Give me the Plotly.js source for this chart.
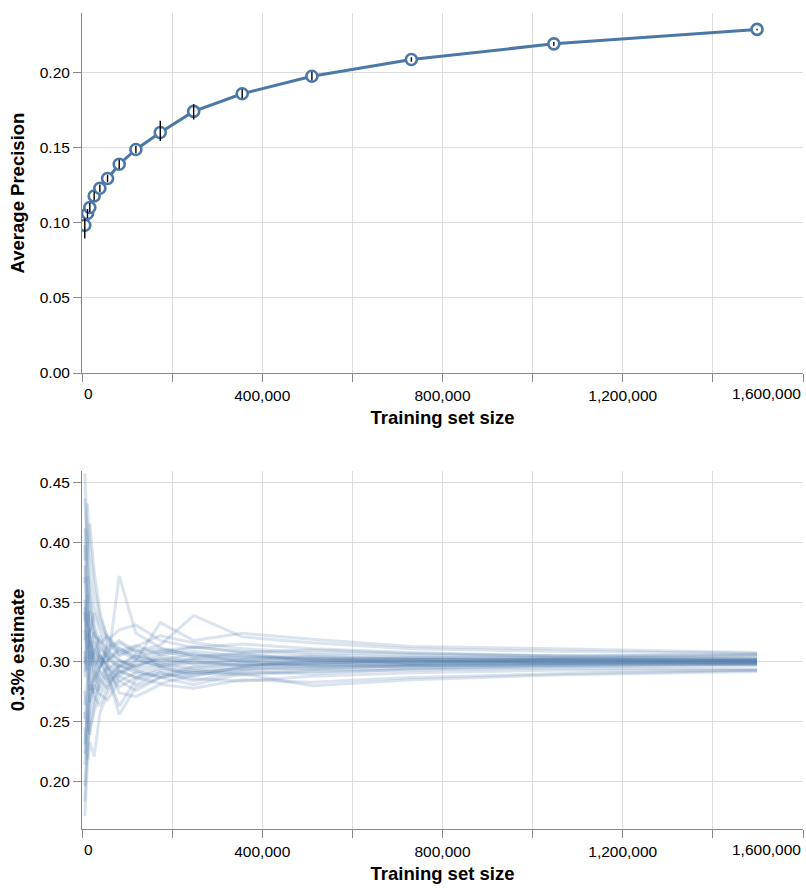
<!DOCTYPE html>
<html>
<head>
<meta charset="utf-8">
<script src="https://cdn.plot.ly/plotly-3.0.1.min.js"></script>
<style>html,body{margin:0;padding:0;background:#fff;}#chart{width:806px;height:888px;}</style>
</head>
<body>
<div id="chart"></div>
<script>
// ---- Data ----
const trainingSize = [6200, 12200, 17300, 27000, 39600, 56700, 82600, 119600, 173700, 247800, 355500, 510200, 730900, 1047100, 1498000];
const avgPrecision = [0.0982, 0.1060, 0.1100, 0.1177, 0.1228, 0.1293, 0.1388, 0.1486, 0.1599, 0.1739, 0.1856, 0.1973, 0.2084, 0.2188, 0.2284];
const apErrPlus    = [0.0045, 0.0030, 0.0030, 0.0030, 0.0025, 0.0025, 0.0030, 0.0025, 0.0077, 0.0048, 0.0030, 0.0028, 0.0015, 0.0012, 0.0005];
const apErrMinus   = [0.0088, 0.0030, 0.0030, 0.0030, 0.0025, 0.0025, 0.0030, 0.0025, 0.0056, 0.0054, 0.0030, 0.0028, 0.0015, 0.0012, 0.0005];

const run01 = [0.412, 0.365, 0.338, 0.322, 0.318, 0.309, 0.316, 0.308, 0.311, 0.306, 0.303, 0.305, 0.302, 0.303, 0.302];
const run02 = [0.231, 0.262, 0.281, 0.274, 0.289, 0.296, 0.284, 0.291, 0.297, 0.293, 0.296, 0.298, 0.297, 0.299, 0.300];
const run03 = [0.352, 0.318, 0.297, 0.311, 0.302, 0.287, 0.298, 0.305, 0.299, 0.303, 0.301, 0.297, 0.300, 0.302, 0.301];
const run04 = [0.458, 0.402, 0.371, 0.346, 0.331, 0.318, 0.309, 0.314, 0.306, 0.309, 0.305, 0.302, 0.304, 0.303, 0.305];
const run05 = [0.183, 0.236, 0.255, 0.268, 0.281, 0.292, 0.279, 0.287, 0.293, 0.291, 0.295, 0.294, 0.297, 0.298, 0.298];
const run06 = [0.298, 0.341, 0.322, 0.303, 0.296, 0.308, 0.302, 0.296, 0.303, 0.299, 0.302, 0.304, 0.301, 0.300, 0.301];
const run07 = [0.385, 0.433, 0.398, 0.362, 0.337, 0.321, 0.311, 0.305, 0.301, 0.307, 0.300, 0.303, 0.299, 0.301, 0.300];
const run08 = [0.264, 0.287, 0.309, 0.292, 0.276, 0.289, 0.263, 0.285, 0.291, 0.284, 0.292, 0.290, 0.294, 0.296, 0.297];
const run09 = [0.327, 0.299, 0.276, 0.288, 0.306, 0.297, 0.372, 0.324, 0.312, 0.305, 0.307, 0.301, 0.303, 0.302, 0.303];
const run10 = [0.214, 0.251, 0.272, 0.296, 0.285, 0.278, 0.295, 0.302, 0.296, 0.300, 0.297, 0.299, 0.301, 0.299, 0.300];
const run11 = [0.371, 0.329, 0.343, 0.319, 0.307, 0.295, 0.288, 0.299, 0.307, 0.312, 0.309, 0.306, 0.304, 0.303, 0.302];
const run12 = [0.245, 0.218, 0.262, 0.281, 0.273, 0.268, 0.284, 0.276, 0.287, 0.293, 0.290, 0.293, 0.295, 0.297, 0.298];
const run13 = [0.334, 0.372, 0.356, 0.331, 0.315, 0.322, 0.306, 0.313, 0.322, 0.316, 0.311, 0.308, 0.306, 0.305, 0.306];
const run14 = [0.287, 0.309, 0.318, 0.301, 0.292, 0.284, 0.297, 0.291, 0.288, 0.296, 0.299, 0.296, 0.298, 0.299, 0.299];
const run15 = [0.398, 0.347, 0.311, 0.297, 0.312, 0.305, 0.293, 0.287, 0.295, 0.291, 0.294, 0.297, 0.296, 0.298, 0.299];
const run16 = [0.196, 0.228, 0.244, 0.259, 0.272, 0.283, 0.291, 0.297, 0.302, 0.298, 0.301, 0.300, 0.302, 0.301, 0.301];
const run17 = [0.342, 0.311, 0.329, 0.307, 0.299, 0.312, 0.318, 0.309, 0.314, 0.339, 0.321, 0.316, 0.311, 0.309, 0.307];
const run18 = [0.276, 0.253, 0.239, 0.263, 0.284, 0.296, 0.274, 0.271, 0.281, 0.278, 0.285, 0.283, 0.287, 0.290, 0.293];
const run19 = [0.318, 0.356, 0.302, 0.283, 0.297, 0.301, 0.309, 0.302, 0.297, 0.302, 0.304, 0.301, 0.300, 0.302, 0.301];
const run20 = [0.437, 0.388, 0.352, 0.328, 0.306, 0.294, 0.301, 0.294, 0.299, 0.295, 0.298, 0.299, 0.301, 0.300, 0.299];
const run21 = [0.252, 0.276, 0.296, 0.317, 0.301, 0.289, 0.256, 0.279, 0.287, 0.291, 0.289, 0.292, 0.293, 0.295, 0.294];
const run22 = [0.309, 0.282, 0.266, 0.279, 0.293, 0.316, 0.305, 0.311, 0.296, 0.288, 0.296, 0.302, 0.299, 0.301, 0.302];
const run23 = [0.366, 0.397, 0.416, 0.376, 0.342, 0.318, 0.327, 0.331, 0.318, 0.312, 0.315, 0.311, 0.308, 0.305, 0.306];
const run24 = [0.223, 0.267, 0.289, 0.306, 0.322, 0.302, 0.296, 0.306, 0.309, 0.304, 0.306, 0.303, 0.302, 0.302, 0.301];
const run25 = [0.292, 0.324, 0.287, 0.271, 0.263, 0.279, 0.292, 0.287, 0.282, 0.289, 0.293, 0.295, 0.297, 0.297, 0.298];
const run26 = [0.346, 0.303, 0.325, 0.341, 0.326, 0.311, 0.301, 0.296, 0.305, 0.301, 0.297, 0.300, 0.298, 0.300, 0.300];
const run27 = [0.171, 0.215, 0.233, 0.221, 0.257, 0.274, 0.288, 0.281, 0.291, 0.286, 0.284, 0.288, 0.291, 0.293, 0.293];
const run28 = [0.304, 0.293, 0.307, 0.325, 0.314, 0.301, 0.312, 0.303, 0.309, 0.313, 0.308, 0.310, 0.307, 0.305, 0.303];
const run29 = [0.381, 0.346, 0.319, 0.296, 0.304, 0.298, 0.291, 0.301, 0.333, 0.318, 0.324, 0.319, 0.313, 0.311, 0.308];
const run30 = [0.258, 0.241, 0.271, 0.285, 0.296, 0.307, 0.297, 0.293, 0.287, 0.281, 0.290, 0.280, 0.285, 0.289, 0.292];
const estimateRuns = [run01, run02, run03, run04, run05, run06, run07, run08, run09, run10,
  run11, run12, run13, run14, run15, run16, run17, run18, run19, run20,
  run21, run22, run23, run24, run25, run26, run27, run28, run29, run30];

const xTickVals = [0, 200000, 400000, 600000, 800000, 1000000, 1200000, 1400000, 1600000];
const xTickText = ['0', '', '400,000', '', '800,000', '', '1,200,000', '', '1,600,000'];
const apTickVals = [0, 0.05, 0.10, 0.15, 0.20];
const estTickVals = [0.20, 0.25, 0.30, 0.35, 0.40, 0.45];

// ---- Style ----
const BLUE = '#4c78a8';
const FONT = '"Liberation Sans", Arial, Helvetica, sans-serif';
const labelFont = {family: FONT, size: 15.5, color: '#000'};
const titleFont = {family: FONT, size: 18.5, color: '#000', weight: 700};

const traces = [];
traces.push({
  x: trainingSize, y: avgPrecision, xaxis: 'x', yaxis: 'y',
  mode: 'lines+markers', type: 'scatter',
  line: {color: BLUE, width: 3},
  marker: {symbol: 'circle', size: 11, color: '#fff', line: {color: BLUE, width: 2.6}},
  hoverinfo: 'skip'
});
traces.push({
  x: trainingSize, y: avgPrecision, xaxis: 'x', yaxis: 'y',
  mode: 'markers', type: 'scatter',
  marker: {size: 1, opacity: 0},
  error_y: {type: 'data', symmetric: false, array: apErrPlus, arrayminus: apErrMinus,
            color: '#000', thickness: 1.4, width: 0},
  hoverinfo: 'skip'
});
estimateRuns.forEach(r => {
  traces.push({
    x: trainingSize, y: r, xaxis: 'x2', yaxis: 'y2',
    mode: 'lines', type: 'scatter',
    line: {color: BLUE, width: 3},
    opacity: 0.2,
    hoverinfo: 'skip'
  });
});

const innerTickText = xTickText.map((t, i) => (i === 0 || i === xTickText.length - 1) ? '' : t);

function xAxis(anchor) {
  return {
    anchor: anchor, range: [0, 1600000],
    tickvals: xTickVals, ticktext: innerTickText,
    ticks: 'outside', ticklen: 8, tickcolor: '#888', tickwidth: 1,
    showline: true, linecolor: '#888', linewidth: 1,
    showgrid: true, gridcolor: '#ddd', gridwidth: 1, zeroline: false,
    tickfont: labelFont,
    title: {text: 'Training set size', font: titleFont, standoff: 8},
    automargin: false, fixedrange: true
  };
}
function yAxis(anchor, domain, range, tv, title) {
  return {
    anchor: anchor, domain: domain, range: range,
    tickvals: tv, ticktext: tv.map(v => v.toFixed(2)),
    ticks: 'outside', ticklen: 8, tickcolor: '#888', tickwidth: 1,
    showline: true, linecolor: '#888', linewidth: 1,
    showgrid: true, gridcolor: '#ddd', gridwidth: 1, zeroline: false,
    tickfont: labelFont,
    title: {text: title, font: titleFont, standoff: 10},
    automargin: false, fixedrange: true
  };
}

const topBottom = 0.5588, botTop = 0.4387;
const annotations = [];
[['x', topBottom], ['x2', 0]].forEach(([xr, yb]) => {
  annotations.push({xref: xr, yref: 'paper', x: xTickVals[0], y: yb, text: xTickText[0],
    xanchor: 'left', yanchor: 'top', yshift: -10, showarrow: false, font: labelFont});
  annotations.push({xref: xr, yref: 'paper', x: xTickVals[xTickVals.length - 1], y: yb,
    text: xTickText[xTickText.length - 1],
    xanchor: 'right', yanchor: 'top', yshift: -10, showarrow: false, font: labelFont});
});

const layout = {
  width: 806, height: 888,
  margin: {l: 82, r: 3, t: 13, b: 59},
  paper_bgcolor: '#fff', plot_bgcolor: '#fff',
  showlegend: false, hovermode: false,
  font: {family: FONT, color: '#000'},
  xaxis: xAxis('y'),
  yaxis: yAxis('x', [topBottom, 1], [0, 0.2393], apTickVals, 'Average Precision'),
  xaxis2: xAxis('y2'),
  yaxis2: yAxis('x2', [0, botTop], [0.16, 0.46], estTickVals, '0.3% estimate'),
  annotations: annotations
};

Plotly.newPlot('chart', traces, layout, {staticPlot: true, displayModeBar: false});
</script>
</body>
</html>
